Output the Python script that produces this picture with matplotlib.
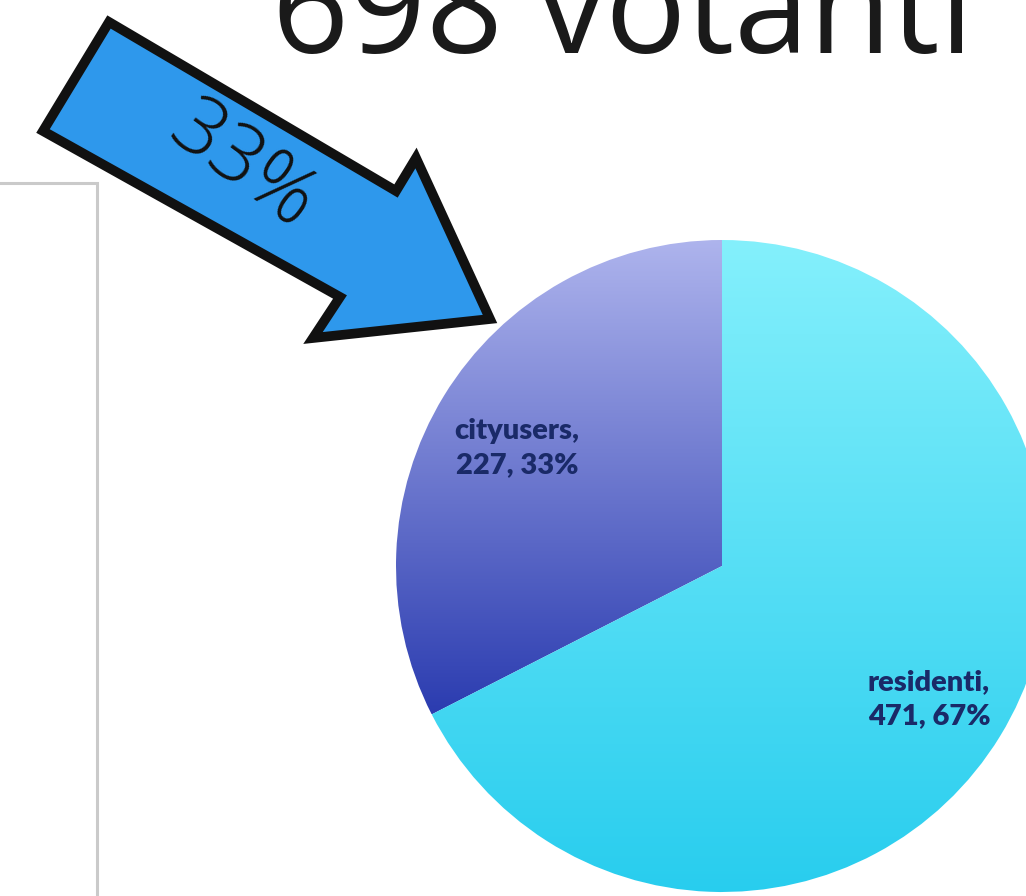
import matplotlib.pyplot as plt
import numpy as np
from matplotlib.colors import LinearSegmentedColormap
from matplotlib.patches import Polygon

# Data
labels = ["cityusers", "residenti"]
counts = [227, 471]
percents = ["33%", "67%"]
title = "698 votanti"
arrow_text = "33%"

# gradient colours (top -> bottom) for each slice
grad_colors = [("#aeb4ed", "#2b3cb0"), ("#84f0fc", "#28cdee")]

fig = plt.figure(figsize=(10.26, 8.96), dpi=100)
ax = fig.add_axes([0, 0, 1, 1])

# Pie (drawn in pixel-like coordinates, y axis pointing down)
cx, cy, r = 722, 566, 326
wedges, _ = ax.pie(counts, startangle=-90, counterclock=False,
                   center=(cx, cy), radius=r, frame=True,
                   wedgeprops=dict(linewidth=0))
ax.set_xlim(0, 1026)
ax.set_ylim(896, 0)
ax.set_aspect("equal")
ax.axis("off")

grad = np.linspace(0, 1, 256).reshape(-1, 1)
for w, (c_top, c_bot) in zip(wedges, grad_colors):
    w.set_facecolor("none")
    # gradient spans the bounding box of each slice
    verts = w.get_patch_transform().transform(w.get_path().vertices)
    y0, y1 = verts[:, 1].min(), verts[:, 1].max()
    cmap = LinearSegmentedColormap.from_list("g", [c_top, c_bot])
    im = ax.imshow(grad, cmap=cmap, aspect="auto", origin="upper",
                   extent=(cx - r, cx + r, y1, y0), zorder=1)
    im.set_clip_path(w)
ax.set_xlim(0, 1026)
ax.set_ylim(896, 0)

# Slice labels
ax.text(517, 448, f"{labels[0]},\n{counts[0]}, {percents[0]}", ha="center",
        va="center", fontsize=21, fontweight="heavy", family="Lato",
        color="#1a2a68", linespacing=1.4, zorder=3)
ax.text(929, 699, f"{labels[1]},\n{counts[1]}, {percents[1]}", ha="center",
        va="center", fontsize=21, fontweight="heavy", family="Lato",
        color="#1a2a68", linespacing=1.4, zorder=3)

# Title (cut at the top of the picture, as in the slide)
ax.text(272, 53, title, ha="left", va="baseline", fontsize=97,
        family="Open Sans", color="#1a1a1a")

# Big blue arrow
arrow_pts = [(109, 22), (43, 131), (340, 297), (313, 338),
             (490, 319), (416, 158), (396, 191)]
ax.add_patch(Polygon(arrow_pts, closed=True, facecolor="#2e98ec",
                     edgecolor="#111111", linewidth=7, joinstyle="miter",
                     zorder=4))
ax.text(242, 167, arrow_text, ha="center", va="center", rotation=-36,
        rotation_mode="anchor", fontsize=59, fontweight="light",
        family="Open Sans", color="#111111", zorder=5)

# Frame of the neighbouring box on the left
ax.plot([0, 97, 97], [183, 183, 896], color="#cacaca", linewidth=2.2,
        solid_joinstyle="miter")

fig.savefig("out.png", dpi=100)
